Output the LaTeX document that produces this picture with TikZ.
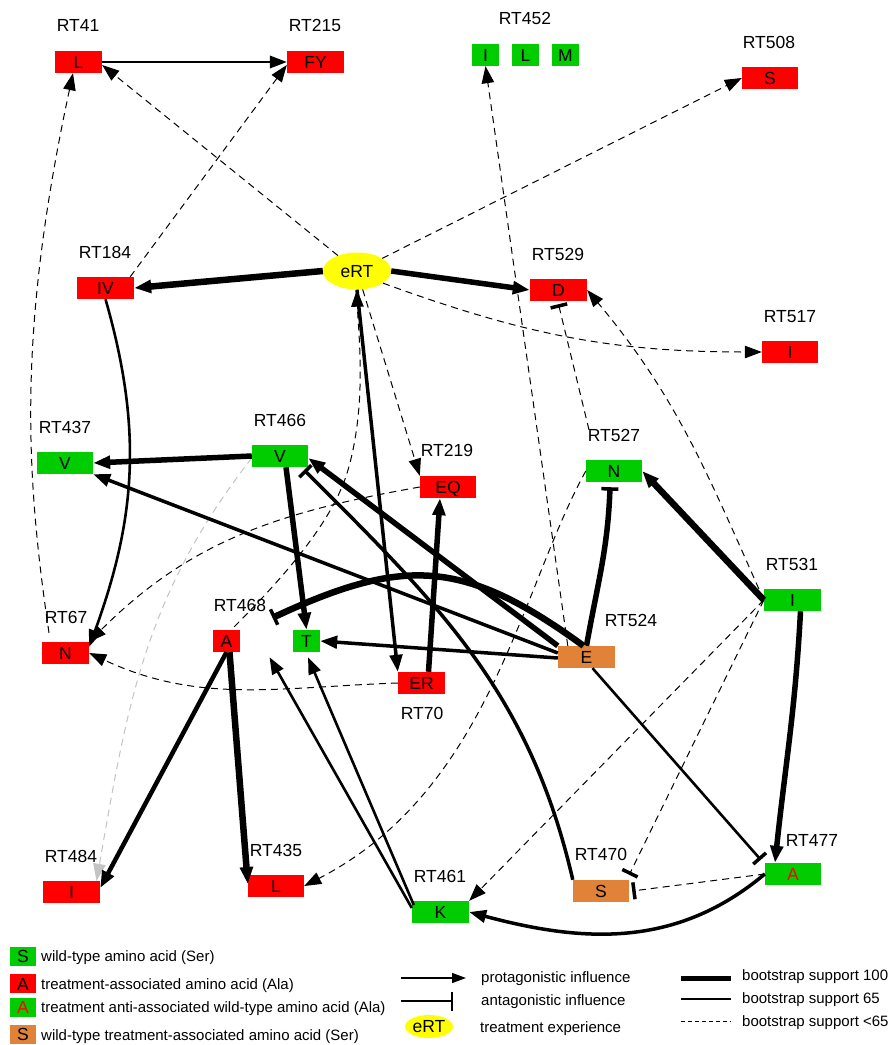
\documentclass[tikz,border=0pt]{standalone}
\usepackage{fontspec}
\setmainfont{Liberation Sans}
\usetikzlibrary{arrows.meta,shapes.geometric}
\definecolor{rred}{HTML}{FF0000}
\definecolor{rgreen}{HTML}{00CC00}
\definecolor{rorange}{HTML}{E08238}
\definecolor{ryellow}{HTML}{FFFF00}
\definecolor{rgray}{HTML}{C4C4C4}
\newcommand\lblfont{\fontsize{17.5pt}{20pt}\selectfont}
\newcommand\lgdfont{\fontsize{15pt}{18pt}\selectfont}
\begin{document}
\begin{tikzpicture}[x=1pt,y=-1pt,
  amino/.style={inner sep=0pt, minimum height=22pt, minimum width=56pt, font=\lblfont, text height=12.5pt, text depth=0pt},
  rbox/.style={amino, fill=rred},
  gbox/.style={amino, fill=rgreen},
  obox/.style={amino, fill=rorange},
  sbox/.style={minimum width=27pt},
  nbox/.style={minimum width=47pt},
  lbl/.style={inner sep=0pt, font=\lblfont, text height=12.5pt, text depth=0pt},
  lgd/.style={inner sep=0pt, font=\lgdfont, text height=10.7pt, text depth=0pt, anchor=west},
  lgbox/.style={minimum width=26pt, minimum height=19pt},
  pro/.style={-{Triangle[length=17pt,width=12.5pt]}},
  anta/.style={-{Bar[width=17pt,line width=3.5pt]}},
  dsh/.style={line width=1pt, dash pattern=on 7pt off 5pt},
  w1/.style={line width=2pt},
  w2/.style={line width=2.6pt},
  w3/.style={line width=3.5pt},
  w4/.style={line width=4.5pt},
  w5/.style={line width=5.5pt},
  w6/.style={line width=6.5pt}
]
\fill[white] (0,0) rectangle (889,1045);
\useasboundingbox (0,0) rectangle (889,1045);

% ---------- nodes ----------
\node[rbox,nbox] (L41) at (78.5,62) {L};
\node[lbl] (lRT41) at (78,25) {RT41};
\node[rbox,minimum width=57pt] (FY215) at (315.5,62) {FY};
\node[lbl] (lRT215) at (315,25) {RT215};
\node[gbox,sbox] (I452) at (485.5,55) {I};
\node[gbox,sbox] (L452) at (525.5,55) {L};
\node[gbox,sbox] (M452) at (565.5,55) {M};
\node[lbl] (lRT452) at (525,18) {RT452};
\node[rbox] (S508) at (770,78) {S};
\node[lbl] (lRT508) at (769,42) {RT508};
\node[lbl,ellipse,fill=ryellow,minimum width=68pt,minimum height=37pt] (eRT) at (357,271) {eRT};
\node[rbox,minimum width=57pt] (IV184) at (105.5,288) {IV};
\node[lbl] (lRT184) at (105,252) {RT184};
\node[rbox,minimum width=57pt] (D529) at (558.5,290) {D};
\node[lbl] (lRT529) at (558,254) {RT529};
\node[rbox] (I517) at (790,352) {I};
\node[lbl] (lRT517) at (790,316) {RT517};
\node[gbox] (V437) at (65,463) {V};
\node[lbl] (lRT437) at (65,427) {RT437};
\node[gbox] (V466) at (280,456) {V};
\node[lbl] (lRT466) at (280,420) {RT466};
\node[rbox] (EQ219) at (448,487) {EQ};
\node[lbl] (lRT219) at (447,450) {RT219};
\node[gbox] (N527) at (614,471) {N};
\node[lbl] (lRT527) at (614,435) {RT527};
\node[gbox,minimum width=57pt] (I531) at (792.5,600) {I};
\node[lbl] (lRT531) at (792,564) {RT531};
\node[obox,minimum width=57pt] (E524) at (586.5,657) {E};
\node[lbl] (lRT524) at (631,620) {RT524};
\node[rbox,sbox] (A468) at (226.5,641) {A};
\node[sbox,minimum height=22pt,inner sep=0pt] (mid468) at (266.5,641) {};
\node[gbox,sbox] (T468) at (306.5,641) {T};
\node[lbl] (lRT468) at (240,605) {RT468};
\node[rbox,nbox] (N67) at (65.5,653) {N};
\node[lbl] (lRT67) at (66,617) {RT67};
\node[rbox,nbox] (ER70) at (421.5,683) {ER};
\node[lbl] (lRT70) at (422,713) {RT70};
\node[rbox,minimum width=57pt] (I484) at (71.5,892) {I};
\node[lbl] (lRT484) at (71,856) {RT484};
\node[rbox] (L435) at (276,886) {L};
\node[lbl] (lRT435) at (276,850) {RT435};
\node[gbox,minimum width=57pt] (K461) at (440.5,912) {K};
\node[lbl] (lRT461) at (440,876) {RT461};
\node[obox] (S470) at (601,891) {S};
\node[lbl] (lRT470) at (601,854) {RT470};
\node[gbox] (A477) at (793,874) {\color{rred}A};
\node[lbl] (lRT477) at (812,840) {RT477};

% ---------- dashed connectors ----------
\draw[dsh,pro] (eRT) -- ([yshift=-3pt]L41.east);
\draw[dsh,pro] ([xshift=-4pt]IV184.north east) -- ([yshift=-3pt]FY215.west);
\draw[dsh,pro] ([xshift=-16.5pt,yshift=9pt]N67.north) .. controls (25,470) and (18,330) .. ([xshift=-5.5pt]L41.south);
\draw[dsh,pro] (eRT) -- (S508.west);
\draw[dsh,pro] ([xshift=10pt]E524.north west) -- (I452.south);
\draw[dsh,pro] (eRT.-25) to[out=-20,in=180] (I517.west);
\draw[dsh,pro] (I531.west) to[out=114,in=-50] (D529.east);
\draw[dsh,anta] ([xshift=-25pt,yshift=30pt]N527.north) -- ([yshift=-3pt]D529.south);
\draw[dsh,pro] (eRT) -- (EQ219.north west);
\draw[dsh,pro] ([xshift=-6pt,yshift=3pt]A468.north east) .. controls (295,566) and (335,515) .. (348,470) .. controls (367.5,402.5) and (358,330) .. (eRT.south);
\draw[dsh,pro] (EQ219.west) to[out=190,in=45] (N67.north east);
\draw[dsh,pro] (ER70.west) to[out=182,in=-25] (N67.east);
\draw[dsh,pro,draw=rgray] ([yshift=-2pt]V466.west) to[out=232,in=80] ([xshift=25pt]I484.north);
\draw[dsh,pro] (N527.west) .. controls (520,590) and (490,790) .. (L435.east);
\draw[dsh,pro] (I531.west) -- (K461.north east);
\draw[dsh,anta] (I531.west) -- ([yshift=5pt]S470.north east);
\draw[dsh,anta] (A477.west) -- ([xshift=3pt]S470.east);

% ---------- solid connectors ----------
\draw[w1,pro] (L41) -- (FY215);
\draw[w6,pro] (eRT.west) -- (IV184.east);
\draw[w5,pro] (eRT.east) -- (D529.west);
\draw[w2,pro] (IV184.south) to[out=-74,in=70] ([yshift=-5pt]N67.north east);
\draw[w5,pro] (V466.west) -- (V437.east);
\draw[w3,pro] ([yshift=4pt]E524.west) -- (V437.south east);
\draw[w5,pro] ([xshift=6pt]V466.south) -- (T468.north);
\draw[w5,pro] (E524.north west) -- ([yshift=-2pt]V466.east);
\draw[w3,anta] (S470.north west) to[out=103,in=-45] ([xshift=-4pt,yshift=-14pt]V466.east);
\draw[w6,anta] ([xshift=-3pt]E524.north) to[out=144,in=25,looseness=1.2] ([xshift=6pt,yshift=12pt]mid468.north);
\draw[w3,pro] ([yshift=-1pt]E524.west) -- (T468.east);
\draw[w3,pro] (eRT.south) -- (ER70.north west);
\draw[w5,pro] ([xshift=7pt]ER70.north) -- ([xshift=-8pt]EQ219.south);
\draw[w4,pro] (A468.south) -- ([yshift=4pt]I484.east);
\draw[w6,pro] ([xshift=3pt]A468.south) -- ([yshift=2pt]L435.west);
\draw[w2,pro] ([yshift=4pt]K461.west) -- ([xshift=3pt,yshift=-5pt]mid468.south);
\draw[w2,pro] ([xshift=2pt,yshift=7pt]K461.west) -- ([xshift=1.5pt,yshift=-5pt]T468.south);
\draw[w5,anta] (E524.north) to[out=80,in=-92] ([xshift=-4pt,yshift=-5pt]N527.south);
\draw[w6,pro] (I531.west) -- (N527.east);
\draw[w5,pro] ([xshift=8pt]I531.south) to[out=-93,in=84] ([xshift=-18pt]A477.north);
\draw[w2,anta] ([xshift=6pt]E524.south) -- ([xshift=-4pt,yshift=3pt]A477.north west);
\draw[w3,pro] (A477.west) to[out=220,in=-15] (K461.east);

% ---------- legend ----------
\node[gbox,lgbox] (lgS) at (23,956.2) {S};
\node[lgd] (lgSt) at (41,956.5) {wild-type amino acid (Ser)};
\node[rbox,lgbox] (lgA) at (23,983.8) {A};
\node[lgd] (lgAt) at (41,983.8) {treatment-associated amino acid (Ala)};
\node[gbox,lgbox] (lgAw) at (23,1007.2) {\color{rred}A};
\node[lgd] (lgAwt) at (41,1007.2) {treatment anti-associated wild-type amino acid (Ala)};
\node[obox,lgbox] (lgSo) at (23,1034.7) {S};
\node[lgd] (lgSot) at (41,1034.7) {wild-type treatment-associated amino acid (Ser)};

\coordinate (lp1) at (401,978);
\coordinate (lp2) at (466,978);
\draw[line width=1.5pt,-{Triangle[length=14pt,width=10pt]}] (lp1) -- (lp2);
\node[lgd] (lpt) at (481,977) {protagonistic influence};
\coordinate (la1) at (401,1001);
\coordinate (la2) at (453,1001);
\draw[line width=1.5pt,-{Bar[width=19pt,line width=2pt]}] (la1) -- (la2);
\node[lgd] (lat) at (481,1000) {antagonistic influence};
\node[lbl,ellipse,fill=ryellow,minimum width=48pt,minimum height=23pt] (lgE) at (429,1026.5) {eRT};
\node[lgd] (lgEt) at (480,1027) {treatment experience};

\coordinate (lb1a) at (681,978);
\coordinate (lb1b) at (731,978);
\draw[line width=5pt] (lb1a) -- (lb1b);
\node[lgd] (lb1t) at (742,975) {bootstrap support 100};
\coordinate (lb2a) at (681,999);
\coordinate (lb2b) at (731,999);
\draw[line width=1.5pt] (lb2a) -- (lb2b);
\node[lgd] (lb2t) at (742,998) {bootstrap support 65};
\coordinate (lb3a) at (681,1021);
\coordinate (lb3b) at (731,1021);
\draw[line width=1pt,dash pattern=on 4pt off 3pt] (lb3a) -- (lb3b);
\node[lgd] (lb3t) at (742,1021) {bootstrap support <65};
\end{tikzpicture}
\end{document}
